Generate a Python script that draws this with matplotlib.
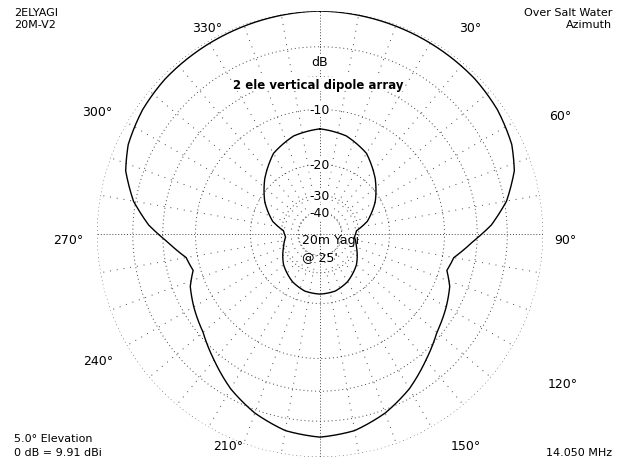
import numpy as np
import matplotlib
matplotlib.use("Agg")
import matplotlib.pyplot as plt

# azimuth (deg, clockwise from north) and gain (dB, relative to 0 dB = 9.91 dBi)
az_outer = [0, 15, 30, 45, 55, 65, 72, 80, 87, 93, 100, 106, 112, 120, 130, 140, 150, 160, 170, 180]
db_outer = [0.0, -0.1, -0.2, -0.3, -0.5, -0.9, -1.5, -2.8, -4.5, -6.5, -8.5, -9.0, -8.0,
            -7.3, -6.5, -5.2, -3.8, -2.7, -1.9, -1.6]

az_inner = [0, 15, 30, 45, 60, 75, 85, 95, 110, 130, 150, 165, 180]
db_inner = [-12.9, -13.5, -15.0, -18.0, -21.5, -26.0, -31.0, -32.0, -30.0, -26.5, -24.0, -22.8, -22.5]

ring_db = [0, -3, -6, -10, -20, -30, -40]
ring_labels = ["-10", "-20", "-30", "-40"]
angle_labels = ["330°", "30°", "300°", "60°", "270°", "90°", "240°", "120°", "210°", "150°"]
angle_pos = [(207, 28), (470, 28), (97, 113), (560, 117), (68, 240),
             (565, 240), (98, 362), (563, 385), (228, 447), (466, 447)]

W, H = 623, 464


def arrl(db):
    # ARRL log scale: 0.89 per 2 dB
    return 0.89 ** (-np.asarray(db, dtype=float) / 2.0)


def mirror(az, db):
    a = np.array(az, dtype=float)
    d = np.array(db, dtype=float)
    a_full = np.concatenate([a, 360 - a[::-1][1:]])
    d_full = np.concatenate([d, d[::-1][1:]])
    return a_full, d_full


fig = plt.figure(figsize=(W / 100, H / 100), dpi=100)
cx, cy, R = 320, 235, 223
ax = fig.add_axes([(cx - R) / W, (H - cy - R) / H, 2 * R / W, 2 * R / H], projection="polar")
ax.set_theta_zero_location("N")
ax.set_theta_direction(-1)
ax.set_ylim(0, 1)
ax.grid(False)
ax.set_xticks([])
ax.set_yticks([])
ax.spines["polar"].set_visible(False)

grid_col = "#444444"
th = np.linspace(0, 2 * np.pi, 721)
for d in ring_db:
    ax.plot(th, np.full_like(th, arrl(d)), color=grid_col, lw=0.7, ls=(0, (1, 3)))
for a in range(0, 360, 10):
    r0 = arrl(-40) if a % 90 else 0
    dash = (0, (1, 2)) if a % 90 == 0 else (0, (1, 6))
    ax.plot([np.radians(a)] * 2, [r0, 1], color=grid_col, lw=0.7, ls=dash)

for az, db in [(az_outer, db_outer), (az_inner, db_inner)]:
    a_full, d_full = mirror(az, db)
    ang = np.linspace(0, 360, 721)
    dd = np.interp(ang, a_full, d_full)
    ax.plot(np.radians(ang), arrl(dd), color="black", lw=1.0)

for lbl, d in zip(ring_labels, [-10, -20, -30, -40]):
    ax.text(0, arrl(d), lbl, ha="center", va="center", fontsize=9,
            bbox=dict(facecolor="white", edgecolor="none", pad=0.5))


def ftext(x, y, s, **kw):
    fig.text(x / W, 1 - y / H, s, **kw)


ftext(320, 63, "dB", ha="center", va="center", fontsize=9,
      bbox=dict(facecolor="white", edgecolor="none", pad=0.5))
ftext(318, 85, "2 ele vertical dipole array", ha="center", va="center",
      fontsize=8.5, fontweight="bold",
      bbox=dict(facecolor="white", edgecolor="none", pad=0.5))
ftext(302, 241, "20m Yagi", ha="left", va="center", fontsize=9)
ftext(302, 258, "@ 25'", ha="left", va="center", fontsize=9)

for s, (x, y) in zip(angle_labels, angle_pos):
    ftext(x, y, s, ha="center", va="center", fontsize=9)

mono = dict(fontsize=8, family="DejaVu Sans")
ftext(14, 13, "2ELYAGI", ha="left", va="center", **mono)
ftext(14, 25, "20M-V2", ha="left", va="center", **mono)
ftext(612, 13, "Over Salt Water", ha="right", va="center", **mono)
ftext(612, 25, "Azimuth", ha="right", va="center", **mono)
ftext(14, 439, "5.0° Elevation", ha="left", va="center", **mono)
ftext(14, 453, "0 dB = 9.91 dBi", ha="left", va="center", **mono)
ftext(612, 453, "14.050 MHz", ha="right", va="center", **mono)

fig.savefig("out.png", dpi=100)
